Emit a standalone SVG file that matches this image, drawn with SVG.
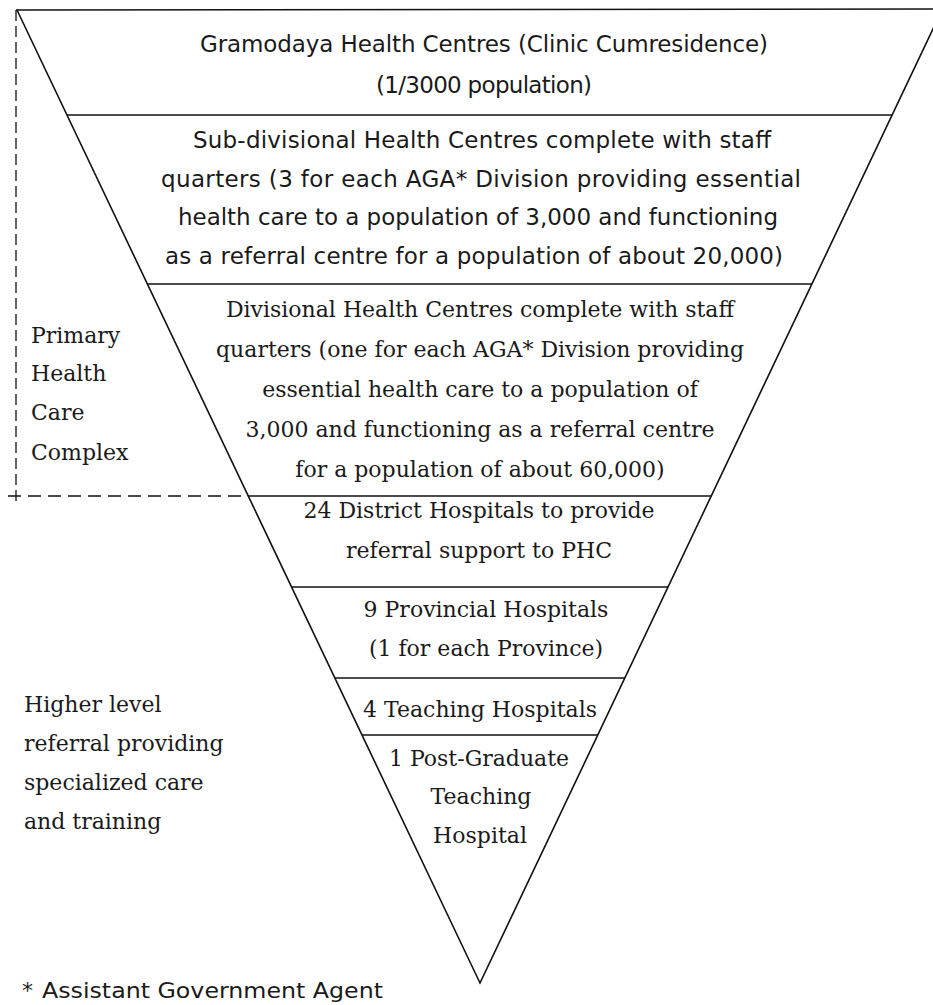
<svg xmlns="http://www.w3.org/2000/svg" width="933" height="1005" viewBox="0 0 933 1005">
<style>
.edge{stroke:#111;stroke-width:1.6;fill:none;stroke-linecap:round}
.div{stroke:#111;stroke-width:1.4;fill:none}
.dash{stroke:#111;stroke-width:1.3;fill:none}
.sans{font-family:"DejaVu Sans","Noto Sans",sans-serif;font-size:23px;fill:#1a1a1a;text-anchor:middle}
.serif{font-family:"DejaVu Serif","Liberation Serif",serif;font-size:22px;fill:#1a1a1a;text-anchor:middle}
.lbl{font-family:"DejaVu Serif","Liberation Serif",serif;font-size:22px;fill:#1a1a1a}
.foot{font-family:"DejaVu Sans","Noto Sans",sans-serif;font-size:22px;fill:#1a1a1a}
</style>
<rect width="933" height="1005" fill="#fff"/>
<g id="connectors">
  <path class="edge" d="M17 10 L480 983 L942 10"/>
  <line class="edge" x1="17" y1="10" x2="933" y2="9"/>
  <line class="div" x1="67" y1="115" x2="892" y2="115"/>
  <line class="div" x1="147" y1="284" x2="812" y2="284"/>
  <line class="div" x1="248" y1="496" x2="711" y2="496"/>
  <line class="div" x1="291" y1="587" x2="668" y2="587"/>
  <line class="div" x1="335" y1="678" x2="625" y2="678"/>
  <line class="div" x1="362" y1="735" x2="598" y2="735"/>
  <line class="dash" x1="16" y1="10" x2="16" y2="502" stroke-dasharray="11 5"/>
  <line class="dash" x1="8" y1="496" x2="248" y2="496" stroke-dasharray="13 7"/>
</g>
<g id="node-gramodaya">
  <text class="sans" x="484" y="52" textLength="568" lengthAdjust="spacing">Gramodaya Health Centres (Clinic Cumresidence)</text>
  <text class="sans" x="484" y="93" textLength="216" lengthAdjust="spacing">(1/3000 population)</text>
</g>
<g id="node-subdivisional">
  <text class="sans" x="482" y="148" textLength="578" lengthAdjust="spacing">Sub-divisional Health Centres complete with staff</text>
  <text class="sans" x="481" y="187" textLength="640" lengthAdjust="spacing">quarters (3 for each AGA* Division providing essential</text>
  <text class="sans" x="478" y="225" textLength="600" lengthAdjust="spacing">health care to a population of 3,000 and functioning</text>
  <text class="sans" x="474" y="264" textLength="618" lengthAdjust="spacing">as a referral centre for a population of about 20,000)</text>
</g>
<g id="node-divisional">
  <text class="serif" x="480" y="317">Divisional Health Centres complete with staff</text>
  <text class="serif" x="480" y="357">quarters (one for each AGA* Division providing</text>
  <text class="serif" x="480" y="397">essential health care to a population of</text>
  <text class="serif" x="480" y="437">3,000 and functioning as a referral centre</text>
  <text class="serif" x="480" y="477">for a population of about 60,000)</text>
</g>
<g id="node-district">
  <text class="serif" x="479" y="518">24 District Hospitals to provide</text>
  <text class="serif" x="479" y="558">referral support to PHC</text>
</g>
<g id="node-provincial">
  <text class="serif" x="486" y="617">9 Provincial Hospitals</text>
  <text class="serif" x="486" y="656">(1 for each Province)</text>
</g>
<g id="node-teaching">
  <text class="serif" x="480" y="717">4 Teaching Hospitals</text>
</g>
<g id="node-postgraduate">
  <text class="serif" x="479" y="766">1 Post-Graduate</text>
  <text class="serif" x="481" y="804">Teaching</text>
  <text class="serif" x="480" y="843">Hospital</text>
</g>
<g id="label-phc">
  <text class="lbl" x="31" y="343">Primary</text>
  <text class="lbl" x="31" y="381">Health</text>
  <text class="lbl" x="31" y="420">Care</text>
  <text class="lbl" x="31" y="460">Complex</text>
</g>
<g id="label-higher">
  <text class="lbl" x="24" y="712">Higher level</text>
  <text class="lbl" x="24" y="751">referral providing</text>
  <text class="lbl" x="24" y="790">specialized care</text>
  <text class="lbl" x="24" y="829">and training</text>
</g>
<g id="footnote">
  <text class="foot" x="22" y="998">*</text>
  <text class="foot" x="42" y="998" textLength="341" lengthAdjust="spacingAndGlyphs">Assistant Government Agent</text>
</g>
</svg>
